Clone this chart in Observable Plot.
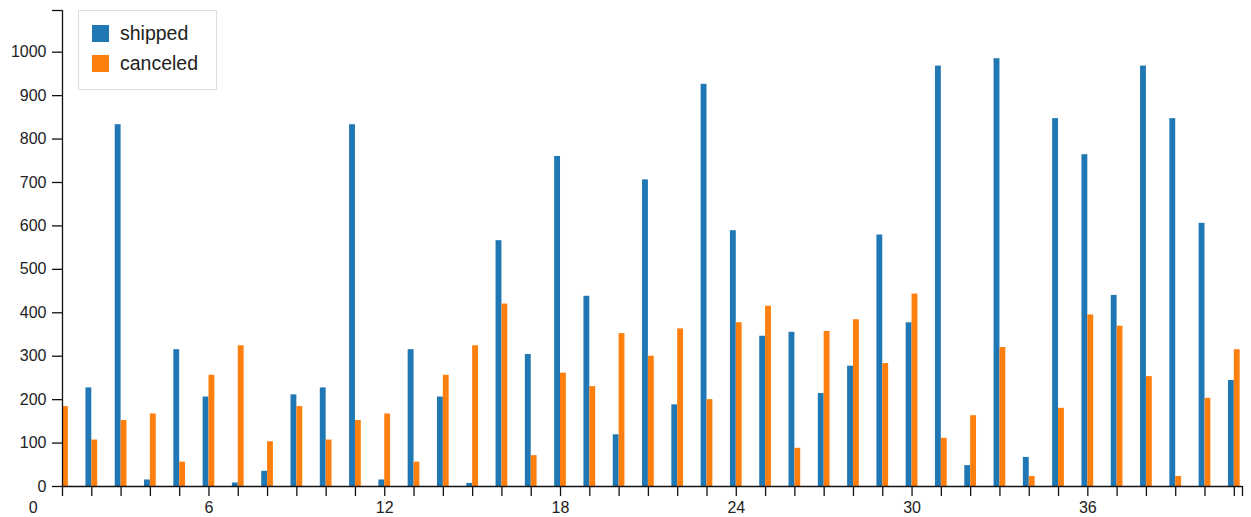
<!DOCTYPE html>
<html><head><meta charset="utf-8">
<script src="https://cdn.jsdelivr.net/npm/d3@7"></script>
<script src="https://cdn.jsdelivr.net/npm/@observablehq/plot@0.6"></script>
<style>
html,body{margin:0;padding:0;background:#fff;}
#wrap{position:relative;width:1251px;height:517px;font-family:"Liberation Sans",Arial,Helvetica,sans-serif;}
#wrap svg{display:block;}
#wrap svg text{font-size:16px;}
#legend{position:absolute;left:78px;top:10px;width:139px;height:80px;border:1px solid #ddd;background:#fff;box-sizing:border-box;}
.item{position:absolute;left:13px;height:17px;line-height:17px;display:flex;align-items:center;font-size:19.5px;color:#222;white-space:nowrap;}
.sw{width:17px;height:17px;margin-right:11px;flex:none;}
</style></head><body><div id="wrap"></div>
<script>
const days = d3.range(1, 42);
const shipped = [210, 227, 833, 15, 315, 206, 8, 35, 211, 227, 833, 15, 315, 206, 7, 566, 304, 760, 438, 119, 706, 188, 926, 589, 346, 355, 214, 277, 579, 377, 968, 48, 985, 67, 847, 764, 440, 968, 847, 606, 244];
const canceled = [184, 107, 152, 167, 56, 256, 324, 103, 184, 107, 152, 167, 56, 256, 324, 420, 71, 261, 230, 352, 300, 363, 200, 377, 415, 88, 357, 384, 283, 443, 111, 163, 320, 23, 180, 395, 369, 253, 23, 203, 315];
const seriesNames = ["shipped", "canceled"];
const seriesColors = ["#1f77b4", "#ff7f0e"];
const xTickLabels = [0, 6, 12, 18, 24, 30, 36];
const yTicks = d3.range(0, 1001, 100);

const xMax = 41.28, yMax = 1096, barW = 0.2;

const rows = days.flatMap((d, i) => [
  {day: d, series: "shipped", value: shipped[i]},
  {day: d, series: "canceled", value: canceled[i]}
]);

const chart = Plot.plot({
  width: 1251, height: 517,
  marginLeft: 62, marginRight: 9, marginTop: 10, marginBottom: 31,
  style: {fontFamily: "'Liberation Sans', Arial, sans-serif", fontSize: "16px", color: "#222", background: "#fff"},
  x: {domain: [1, xMax], label: null},
  y: {domain: [0, yMax], label: null},
  color: {domain: seriesNames, range: seriesColors},
  marks: [
    Plot.rectY(rows, {
      x1: d => d.series === "shipped" ? d.day - barW : d.day,
      x2: d => d.series === "shipped" ? d.day : d.day + barW,
      y1: 0, y2: "value", fill: "series", clip: true, inset: 0
    }),
    Plot.ruleX([1], {stroke: "#111", strokeWidth: 1.3}),
    Plot.ruleY([0], {stroke: "#111", strokeWidth: 1.3}),
    Plot.axisY({ticks: yTicks, tickSize: 10, tickPadding: 6, tickFormat: d3.format("d"), label: null, stroke: "#111", strokeWidth: 1.3}),
    Plot.axisY({ticks: [yMax], tickSize: 10, tickFormat: () => "", label: null, stroke: "#111", strokeWidth: 1.3}),
    Plot.axisX({ticks: days.concat([xMax]), tickSize: 10, tickFormat: () => "", label: null, stroke: "#111", strokeWidth: 1.3}),
    Plot.axisX({ticks: xTickLabels, tickSize: 0, tickPadding: 15, tickFormat: d3.format("d"), label: null})
  ]
});
const wrap = document.getElementById("wrap");
wrap.appendChild(chart);

const legend = document.createElement("div");
legend.id = "legend";
seriesNames.forEach((name, i) => {
  const item = document.createElement("div");
  item.className = "item";
  item.style.top = (14 + i * 30) + "px";
  const sw = document.createElement("span");
  sw.className = "sw";
  sw.style.background = seriesColors[i];
  const t = document.createElement("span");
  t.textContent = name;
  item.appendChild(sw); item.appendChild(t);
  legend.appendChild(item);
});
wrap.appendChild(legend);
</script></body></html>
